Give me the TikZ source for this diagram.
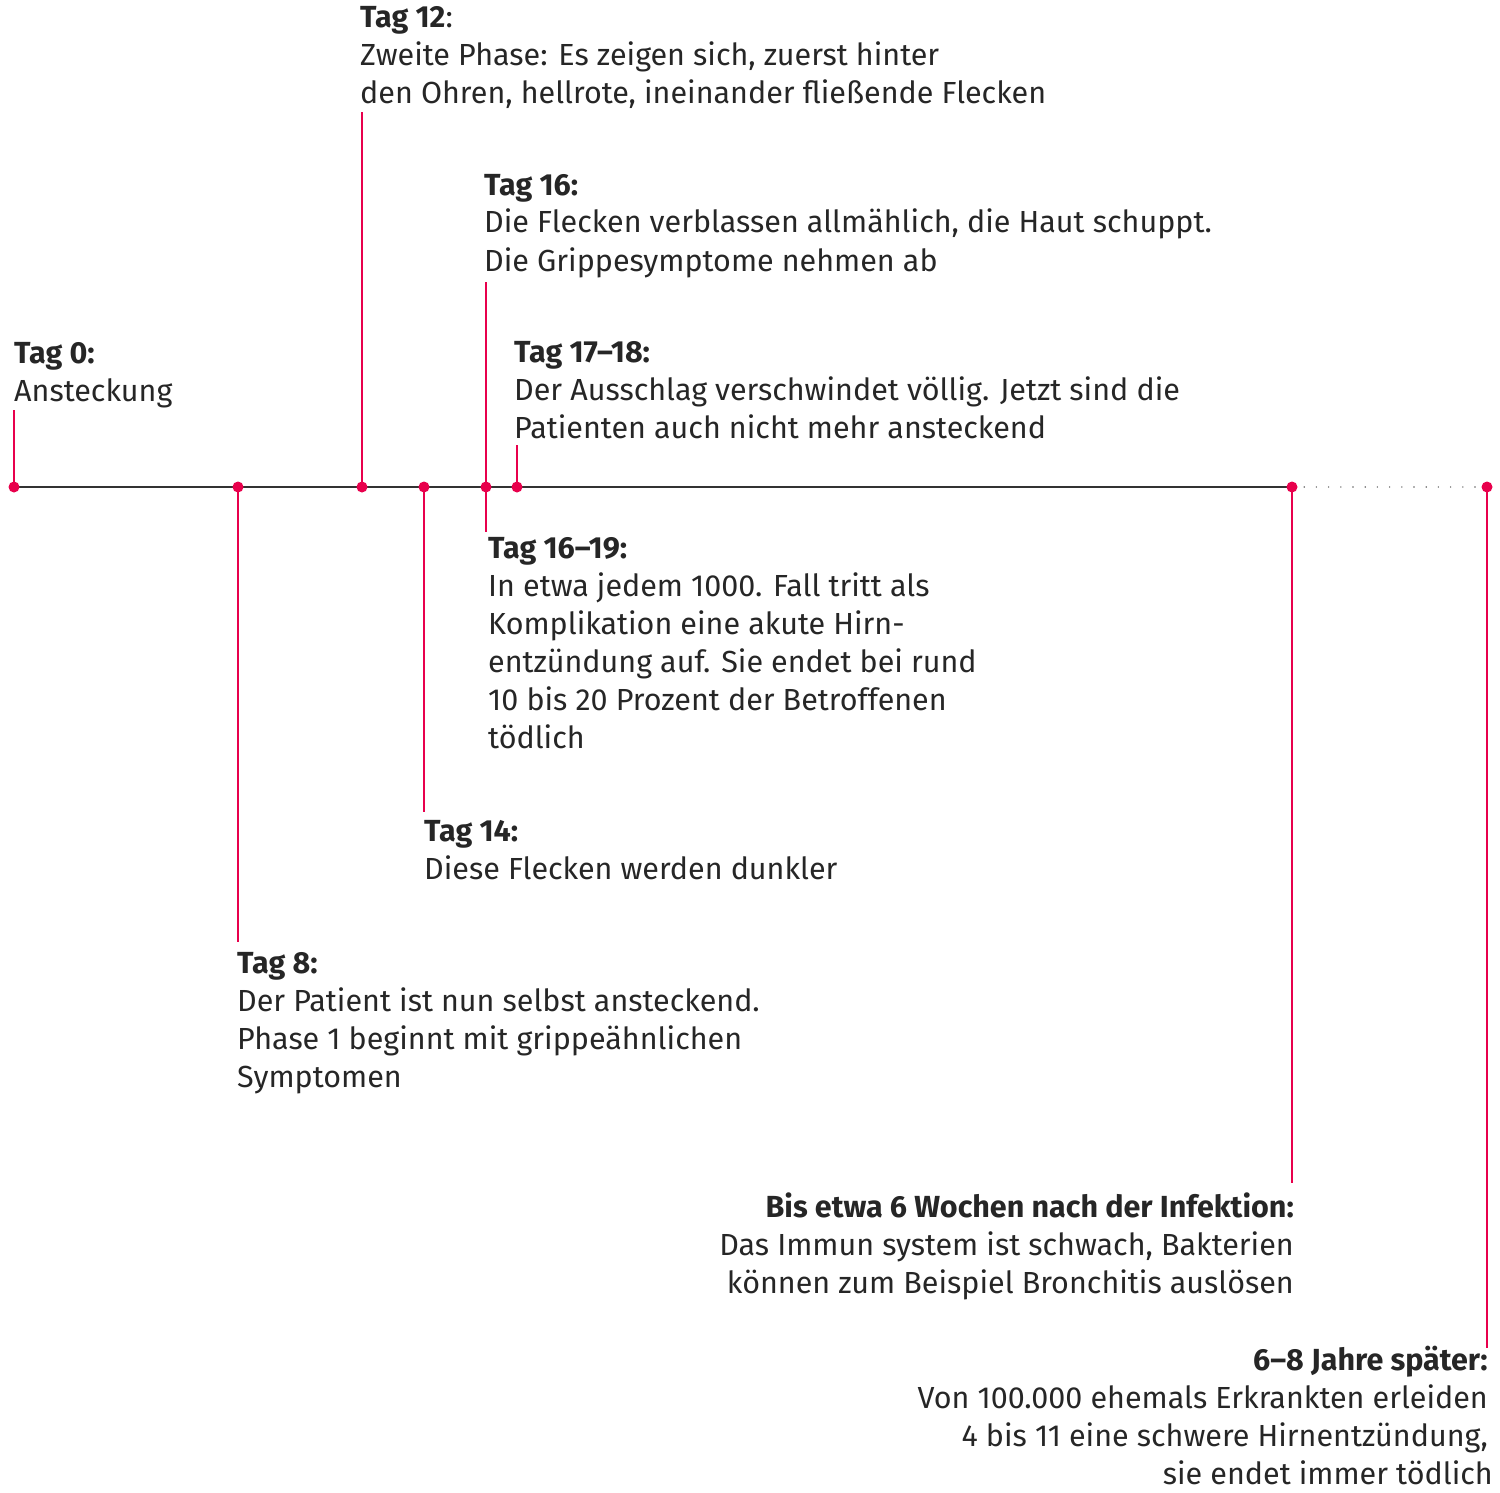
\documentclass[tikz,border=0pt]{standalone}
\usepackage{fontspec}
\setmainfont{Fira Sans}
\begin{document}
\begin{tikzpicture}[x=1pt,y=-1pt,
  tx/.style={inner sep=0pt,anchor=base west,font=\fontsize{30.5}{38}\selectfont,text=black!85},
  tr/.style={tx,anchor=base east}]
\definecolor{pk}{HTML}{E8004C}
\tikzset{lead/.style={draw=pk,line width=1.3pt}}
\useasboundingbox (0,0) rectangle (1500,1493);
% timeline
\coordinate (s) at (14,487);
\coordinate (e) at (1292,487);
\coordinate (f) at (1487,487);
\draw[line width=1.3pt,black!80] (s) -- (e);
\draw[line width=1.6pt,black!60,line cap=round,dash pattern=on 0pt off 12.2pt] (e) -- (f);
% leaders
\foreach \n/\x/\y in {a/14/410,b/238/942,c/362/112,d/424/812,e1/486/282,g/517/445,h/1292/1183,i/1487/1348}{
  \coordinate (p\n) at (\x,487);
  \coordinate (q\n) at (\x,\y);
  \draw[lead] (p\n) -- (q\n);}
\coordinate (r16) at (486,532);
\draw[lead] (pe1) -- (r16);
\foreach \n in {a,b,c,d,e1,g,h,i}{\node[circle,fill=pk,inner sep=0pt,minimum size=11pt] (m\n) at (p\n) {};}
% texts
\node[tx] (t0) at (14,363) {\textbf{Tag 0:}};
\node[tx] (t0b) at (14,401) {Ansteckung};
\node[tx] (t12) at (360,28) {\textbf{Tag 12}:};
\node[tx] (t12b) at (360,66) {Zweite Phase: Es zeigen sich, zuerst hinter};
\node[tx] (t12c) at (360,104) {den Ohren, hellrote, ineinander fließende Flecken};
\node[tx] (t16) at (484,195) {\textbf{Tag 16:}};
\node[tx] (t16b) at (484,233) {Die Flecken verblassen allmählich, die Haut schuppt.};
\node[tx] (t16c) at (484,271) {Die Grippesymptome nehmen ab};
\node[tx] (t17) at (514,362) {\textbf{Tag 17–18:}};
\node[tx] (t17b) at (514,400) {Der Ausschlag verschwindet völlig. Jetzt sind die};
\node[tx] (t17c) at (514,438) {Patienten auch nicht mehr ansteckend};
\node[tx] (t19) at (488,558) {\textbf{Tag 16–19:}};
\node[tx] (t19b) at (488,596) {In etwa jedem 1000. Fall tritt als};
\node[tx] (t19c) at (488,634) {Komplikation eine akute Hirn-};
\node[tx] (t19d) at (488,672) {entzündung auf. Sie endet bei rund};
\node[tx] (t19e) at (488,710) {10 bis 20 Prozent der Betroffenen};
\node[tx] (t19f) at (488,748) {tödlich};
\node[tx] (t14) at (424,841) {\textbf{Tag 14:}};
\node[tx] (t14b) at (424,879) {Diese Flecken werden dunkler};
\node[tx] (t8) at (237,973) {\textbf{Tag 8:}};
\node[tx] (t8b) at (237,1011) {Der Patient ist nun selbst ansteckend.};
\node[tx] (t8c) at (237,1049) {Phase 1 beginnt mit grippeähnlichen};
\node[tx] (t8d) at (237,1087) {Symptomen};
\node[tr] (w) at (1294,1217) {\textbf{Bis etwa 6 Wochen nach der Infektion:}};
\node[tr] (wb) at (1294,1255) {Das Immun system ist schwach, Bakterien};
\node[tr] (wc) at (1294,1293) {können zum Beispiel Bronchitis auslösen};
\node[tr] (j) at (1488,1370) {\textbf{6–8 Jahre später:}};
\node[tr] (jb) at (1488,1408) {Von 100.000 ehemals Erkrankten erleiden};
\node[tr] (jc) at (1488,1446) {4 bis 11 eine schwere Hirnentzündung,};
\node[tr] (jd) at (1493,1484) {sie endet immer tödlich};
\end{tikzpicture}
\end{document}
